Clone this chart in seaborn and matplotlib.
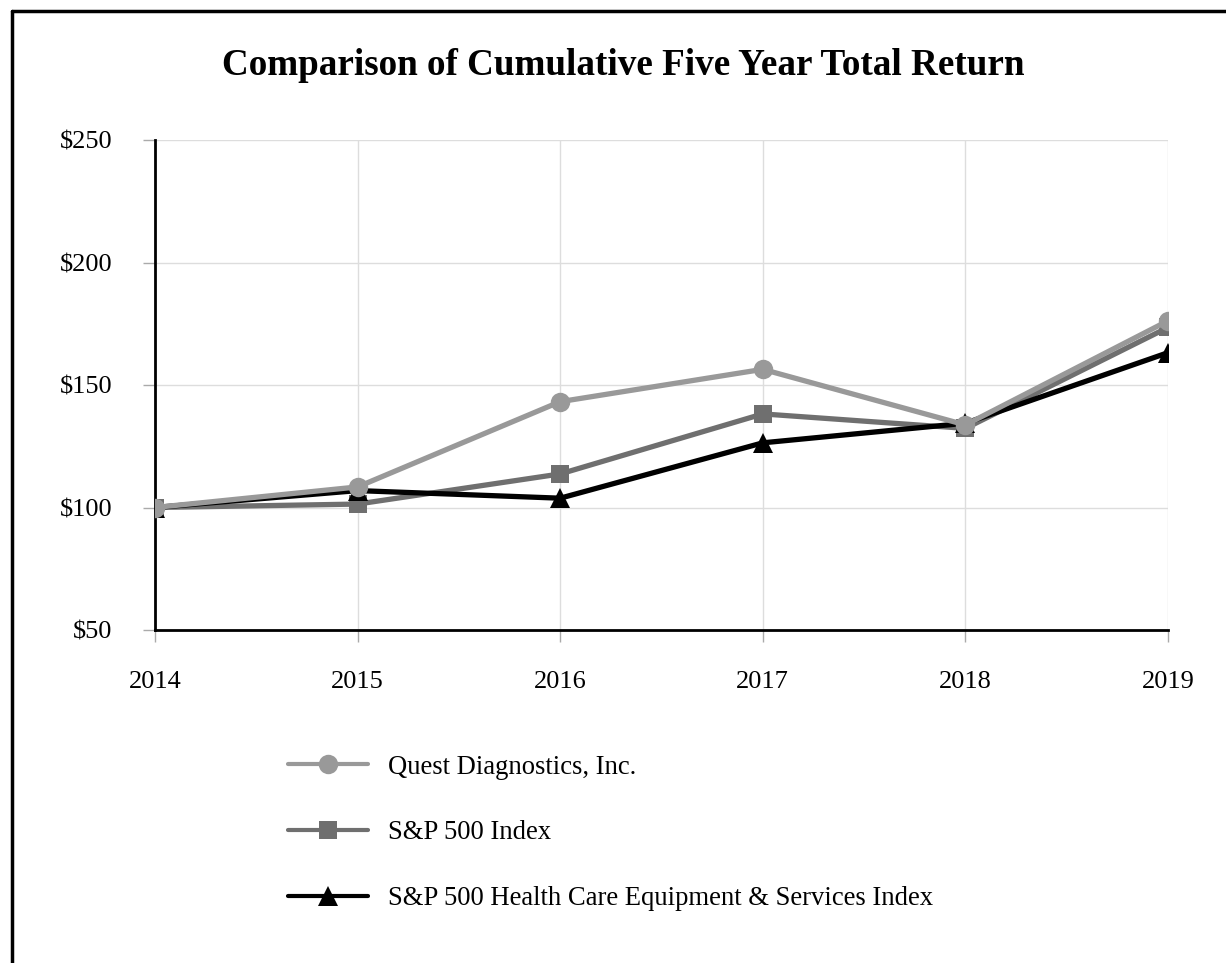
import matplotlib
matplotlib.use("Agg")
import matplotlib.pyplot as plt
from matplotlib.lines import Line2D
import seaborn as sns
import pandas as pd

years = [2014, 2015, 2016, 2017, 2018, 2019]
quest = [100, 108.4, 143.2, 156.4, 133.7, 176.2]
sp500 = [100, 101.4, 113.7, 138.2, 132.3, 173.5]
hc_equip = [100, 106.9, 103.8, 126.4, 134.4, 163.2]
series_names = ["Quest Diagnostics, Inc.", "S&P 500 Index",
                "S&P 500 Health Care Equipment & Services Index"]
y_ticks = [50, 100, 150, 200, 250]

sns.set_style("white")
plt.rcParams['font.family'] = ['Liberation Serif', 'DejaVu Serif']
plt.rcParams['text.color'] = 'black'

fig = plt.figure(figsize=(12.26, 9.63), dpi=100)
ax = fig.add_axes([0.1264, 0.3458, 0.9527 - 0.1264, 0.8546 - 0.3458])

styles = [
    (series_names[1], sp500, "#6f6f6f", "s", 13),
    (series_names[2], hc_equip, "#000000", "^", 14),
    (series_names[0], quest, "#999999", "o", 14),
]
handles = {}
for i, (name, vals, col, mk, ms) in enumerate(styles):
    df = pd.DataFrame({"year": years, "value": vals})
    sns.lineplot(data=df, x="year", y="value", ax=ax, color=col, linewidth=3.8,
                 marker=mk, markersize=ms, markeredgewidth=0, zorder=3 + i,
                 label=name, legend=False)
    handles[name] = Line2D([], [], color=col, linewidth=3.0, marker=mk,
                           markersize=ms, markeredgewidth=0)

ax.set_xlim(2014, 2019)
ax.set_ylim(50, 250)
ax.set_xticks(years)
ax.set_xticklabels([str(y) for y in years])
ax.set_yticks(y_ticks)
ax.set_yticklabels([f"${v}" for v in y_ticks])
ax.set_xlabel("")
ax.set_ylabel("")
ax.grid(True, color="#dddddd", linewidth=1.0)
for s in ["top", "right"]:
    ax.spines[s].set_visible(False)
for s in ["left", "bottom"]:
    ax.spines[s].set_color("black")
    ax.spines[s].set_linewidth(2.0)
ax.tick_params(axis="both", labelsize=19, color="#aaaaaa", labelcolor="black",
               length=8.6, width=1.0, direction="out", left=True, bottom=True)
ax.tick_params(axis="y", pad=22)
ax.tick_params(axis="x", pad=21)

fig.text(0.5086, 0.932, "Comparison of Cumulative Five Year Total Return",
         ha="center", va="center", fontsize=26.7, fontweight="bold", color="black")

leg = fig.legend([handles[n] for n in series_names], series_names,
                 loc="center left", bbox_to_anchor=(0.226, 0.135),
                 borderaxespad=0, frameon=False, fontsize=19.2, handlelength=3.0,
                 labelspacing=1.53, handletextpad=0.75)
for t in leg.get_texts():
    t.set_color("black")

fig.add_artist(Line2D([0.0095, 0.0095], [0.0, 0.9885], transform=fig.transFigure,
                      color="black", linewidth=2.5))
fig.add_artist(Line2D([0.0095, 1.0], [0.9885, 0.9885], transform=fig.transFigure,
                      color="black", linewidth=2.5))

fig.savefig("out.png", dpi=100, facecolor="white")
